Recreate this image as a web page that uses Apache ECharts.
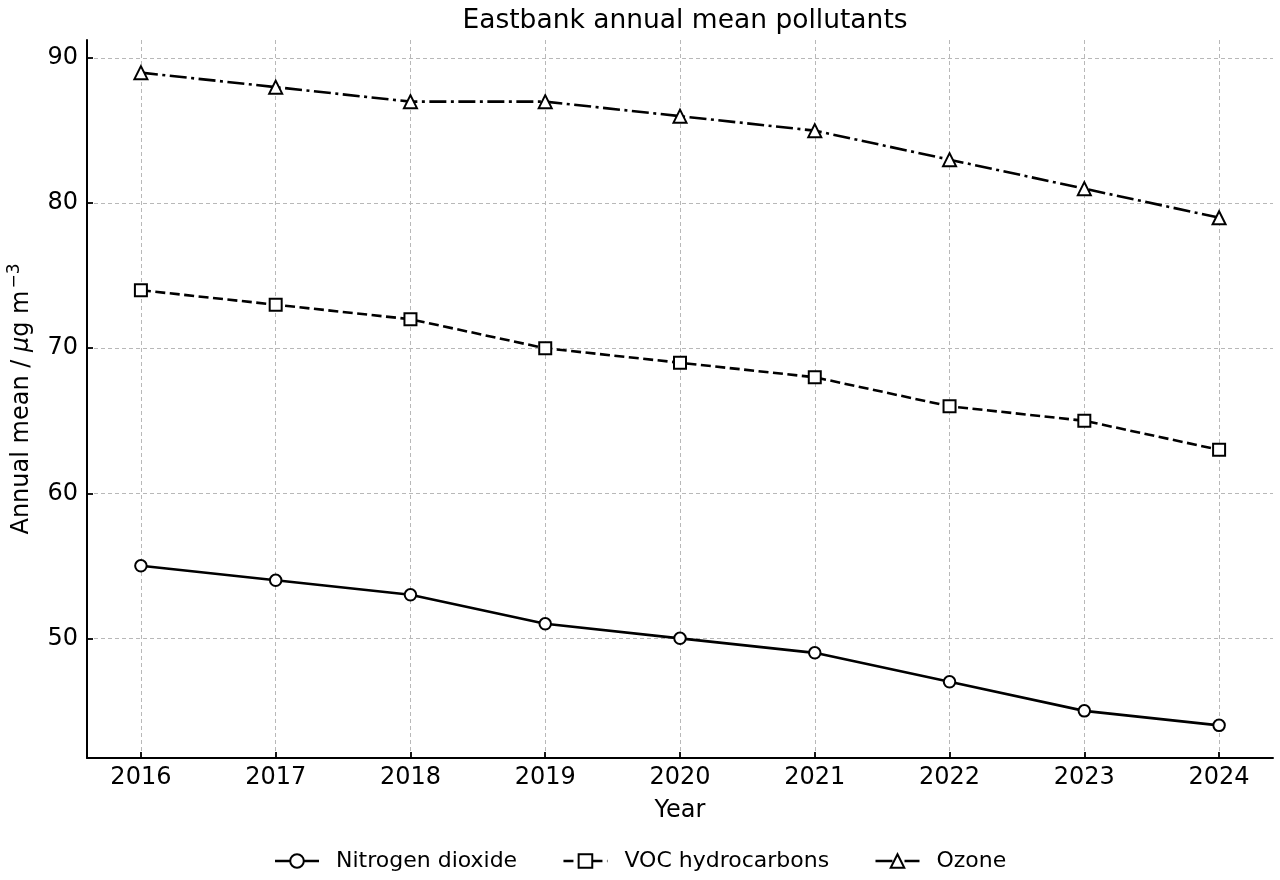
<!DOCTYPE html>
<html>
<head>
<meta charset="utf-8">
<script src="https://cdn.jsdelivr.net/npm/echarts@6/dist/echarts.min.js"></script>
<style>
html,body{margin:0;padding:0;background:#fff;}
#chart{width:1280px;height:880px;}
</style>
</head>
<body>
<div id="chart"></div>
<script>
const years = [2016, 2017, 2018, 2019, 2020, 2021, 2022, 2023, 2024];
const nitrogenDioxide = [55, 54, 53, 51, 50, 49, 47, 45, 44];
const vocHydrocarbons = [74, 73, 72, 70, 69, 68, 66, 65, 63];
const ozone = [89, 88, 87, 87, 86, 85, 83, 81, 79];
const yTicks = [50, 60, 70, 80, 90];
const seriesNames = ['Nitrogen dioxide', 'VOC hydrocarbons', 'Ozone'];

const FONT = 'DejaVu Sans';
const pairs = arr => years.map((y, i) => [y, arr[i]]);

const chart = echarts.init(document.getElementById('chart'), null, {renderer: 'canvas'});

function lineSeries(name, data, symbol, symbolSize, lineType) {
  return {
    name: name,
    type: 'line',
    data: pairs(data),
    symbol: symbol,
    symbolSize: symbolSize,
    showAllSymbol: true,
    itemStyle: {color: '#ffffff', borderColor: '#000000', borderWidth: 2},
    lineStyle: {color: '#000000', width: 2.6, type: lineType, cap: 'butt'},
    emphasis: {disabled: true},
    animation: false,
    z: 3
  };
}

const option = {
  backgroundColor: '#ffffff',
  animation: false,
  title: {
    text: 'Eastbank annual mean pollutants',
    left: 680,
    textAlign: 'center',
    top: 3,
    textStyle: {fontFamily: FONT, fontSize: 26.5, fontWeight: 'normal', color: '#000'}
  },
  legend: {
    bottom: 3,
    left: 'center',
    itemWidth: 44,
    itemHeight: 17,
    itemGap: 45,
    data: seriesNames,
    lineStyle: {width: 2.6},
    itemStyle: {borderWidth: 2},
    textStyle: {fontFamily: FONT, fontSize: 22, color: '#000', padding: [0, 0, 0, 12]}
  },
  grid: {left: 87, right: 7, top: 40, bottom: 122, containLabel: false, outerBoundsMode: 'none'},
  xAxis: {
    type: 'value',
    min: 2015.6,
    max: 2024.4,
    name: 'Year',
    nameLocation: 'middle',
    nameGap: 41,
    nameTextStyle: {fontFamily: FONT, fontSize: 24, color: '#000'},
    axisLine: {show: true, onZero: false, lineStyle: {color: '#000', width: 2}},
    axisTick: {show: true, inside: true, length: 6, customValues: years, lineStyle: {color: '#000', width: 1.8}},
    axisLabel: {customValues: years, margin: 8, fontFamily: FONT, fontSize: 24, color: '#000', formatter: v => String(v)},
    splitLine: {show: true, lineStyle: {color: '#b8b8b8', width: 1, type: [4, 3]}}
  },
  yAxis: {
    type: 'value',
    min: 41.75,
    max: 91.25,
    name: '{t|Annual mean / }{i|μ}{t|g m}{s|−3}',
    nameLocation: 'middle',
    nameGap: 49,
    nameTextStyle: {
      fontFamily: FONT, fontSize: 24, color: '#000',
      rich: {
        t: {fontFamily: FONT, fontSize: 24, color: '#000'},
        i: {fontFamily: FONT, fontSize: 24, fontStyle: 'italic', color: '#000'},
        s: {fontFamily: FONT, fontSize: 17, color: '#000', padding: [0, 0, 15, 2]}
      }
    },
    axisLine: {show: true, onZero: false, lineStyle: {color: '#000', width: 2}},
    axisTick: {show: true, inside: true, length: 6, customValues: yTicks, lineStyle: {color: '#000', width: 1.8}},
    axisLabel: {customValues: yTicks, margin: 9, fontFamily: FONT, fontSize: 24, color: '#000'},
    splitLine: {show: true, lineStyle: {color: '#b8b8b8', width: 1, type: [4, 3]}}
  },
  series: [
    lineSeries(seriesNames[0], nitrogenDioxide, 'circle', 11.5, 'solid'),
    lineSeries(seriesNames[1], vocHydrocarbons, 'rect', 12, [10, 4.5]),
    lineSeries(seriesNames[2], ozone, 'triangle', 13, [17, 4.5, 3, 4.5])
  ]
};
chart.setOption(option);
</script>
</body>
</html>
